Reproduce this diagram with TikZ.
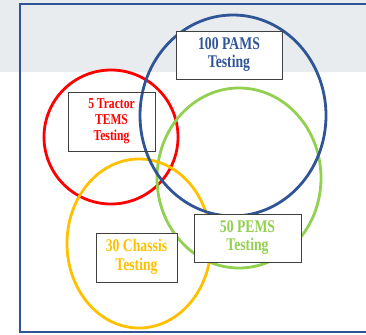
\documentclass[tikz,border=0pt]{standalone}
\usepackage{fontspec}
\setmainfont{Liberation Serif}
\usepackage{graphicx}
\usepackage{xcolor}

\definecolor{pamsblue}{HTML}{2F5597}
\definecolor{pemsgreen}{HTML}{92D050}
\definecolor{chassisyellow}{HTML}{FFC000}
\definecolor{bandgray}{HTML}{E8ECEE}

\newcommand{\tallbold}[3]{\scalebox{1}[1.3]{\fontsize{#1}{#2}\selectfont\bfseries\begin{tabular}{@{}c@{}}#3\end{tabular}}}

\begin{document}
\begin{tikzpicture}[
    x=1pt, y=-1pt,
    ring/.style={
        line width=2.8pt
    },
    labelbox/.style={
        rectangle,
        draw=black!75,
        line width=0.8pt,
        inner sep=0pt
    }
]
\useasboundingbox (0,0) rectangle (366,334);
\clip (0,0) rectangle (366,334);

% Background band and frame
\fill[bandgray] (0,0) rectangle (366,72);
\draw[pamsblue, line width=2.5pt] (20,4) rectangle (372,332);

% Circles
\draw[ring, red] (111,137) ellipse [x radius=67, y radius=67];
\draw[ring, pemsgreen] (239,178) ellipse [x radius=82, y radius=90];
\draw[ring, chassisyellow] (139,243.5) ellipse [x radius=72, y radius=84.5];
\draw[ring, pamsblue] (233,115.5) ellipse [x radius=93, y radius=100.5];

% Labels
\node[labelbox, fill=white, minimum width=106, minimum height=48, text=pamsblue] (pams) at (229,55)
    {\tallbold{13.7}{13.8}{100 PAMS\\Testing}};
\node[labelbox, minimum width=87, minimum height=59, text=red] (tems) at (111.5,121.5)
    {\tallbold{11.6}{12.1}{5 Tractor\\TEMS\\Testing}};
\node[labelbox, fill=white, minimum width=81, minimum height=49, text=chassisyellow] (chassis) at (136.5,257.5)
    {\tallbold{13.7}{14.2}{30 Chassis\\Testing}};
\node[labelbox, fill=white, minimum width=107, minimum height=48, text=pemsgreen] (pems) at (247.5,238)
    {\tallbold{13.7}{13.8}{50 PEMS\\Testing}};

\end{tikzpicture}
\end{document}
